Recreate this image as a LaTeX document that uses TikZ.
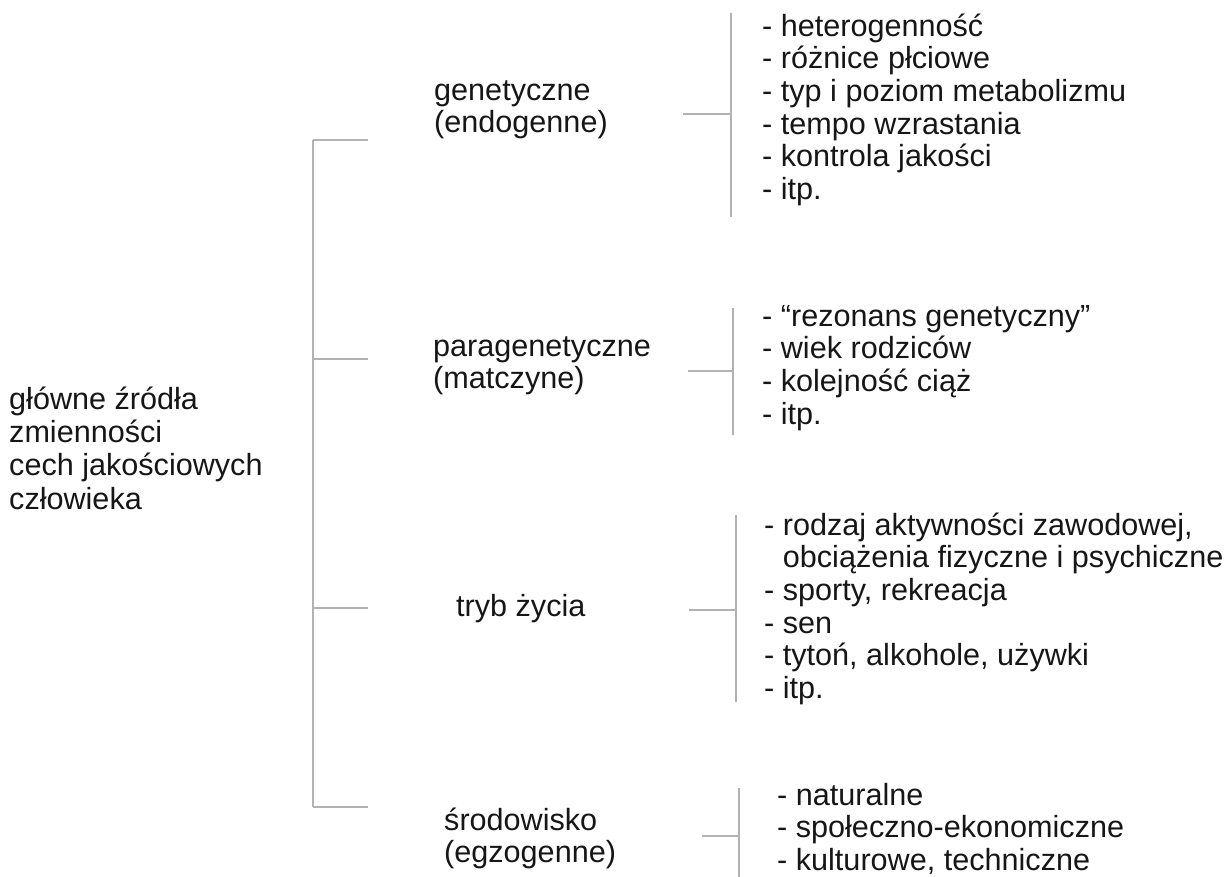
\documentclass[tikz,border=0pt]{standalone}
\usepackage{fontspec}
\setmainfont{Liberation Sans}
\definecolor{twiggray}{RGB}{178,178,178}
\definecolor{inkgray}{RGB}{22,22,22}
\begin{document}
\begin{tikzpicture}[x=1pt, y=-1pt,
  txt/.style={anchor=north west, yshift=22.82pt, inner sep=0pt, align=left,
    text=inkgray, font=\fontsize{30.6}{32.6}\selectfont},
  twig/.style={draw=twiggray, line width=1.3pt}]
  \useasboundingbox (0,0) rectangle (1224,876);
  % main source
  \node [txt, font=\fontsize{30.6}{33.3}\selectfont, yshift=0.49pt] (root) at (9,409)
    {\strut główne źródła\\zmienności\\cech jakościowych\\człowieka};
  % groups
  \node [txt] (gen) at (434,100) {\strut genetyczne\\(endogenne)};
  \node [txt] (para) at (433,356) {\strut paragenetyczne\\(matczyne)};
  \node [txt] (tryb) at (456,616) {\strut tryb życia};
  \node [txt] (env) at (444,830) {\strut środowisko\\(egzogenne)};
  % lists
  \node [txt] (genlist) at (762,36) {\strut - heterogenność\\- różnice płciowe\\- typ i poziom metabolizmu\\- tempo wzrastania\\- kontrola jakości\\- itp.};
  \node [txt] (paralist) at (762,326) {\strut - “rezonans genetyczny”\\- wiek rodziców\\- kolejność ciąż\\- itp.};
  \node [txt] (tryblist) at (764,535) {\strut - rodzaj aktywności zawodowej,\\\phantom{-}\ obciążenia fizyczne i psychiczne\\- sporty, rekreacja\\- sen\\- tytoń, alkohole, używki\\- itp.};
  \node [txt] (envlist) at (777,805) {\strut - naturalne\\- społeczno-ekonomiczne\\- kulturowe, techniczne};
  % left bracket
  \coordinate (spinetop) at (313,140);
  \coordinate (spinebot) at (313,807);
  \draw [twig] (spinetop) -- (spinebot);
  \foreach \n/\y in {gen/140, para/359, tryb/608, env/807}
  {
    \coordinate (\n-root) at (313,\y);
    \coordinate (\n-tip) at (368,\y);
    \draw [twig] (\n-root) -- (\n-tip);
  }
  % right brackets
  \foreach \n/\xa/\xb/\ya/\ym/\yb in {gen/683/731/13/114/217, para/688/733/308/371/435,
    tryb/689/736/515/610/702, env/702/739/788/836/880}
  {
    \coordinate (\n-out) at (\xa,\ym);
    \coordinate (\n-fork) at (\xb,\ym);
    \coordinate (\n-top) at (\xb,\ya);
    \coordinate (\n-bot) at (\xb,\yb);
    \draw [twig] (\n-top) -- (\n-bot);
    \draw [twig] (\n-out) -- (\n-fork);
  }
\end{tikzpicture}
\end{document}
